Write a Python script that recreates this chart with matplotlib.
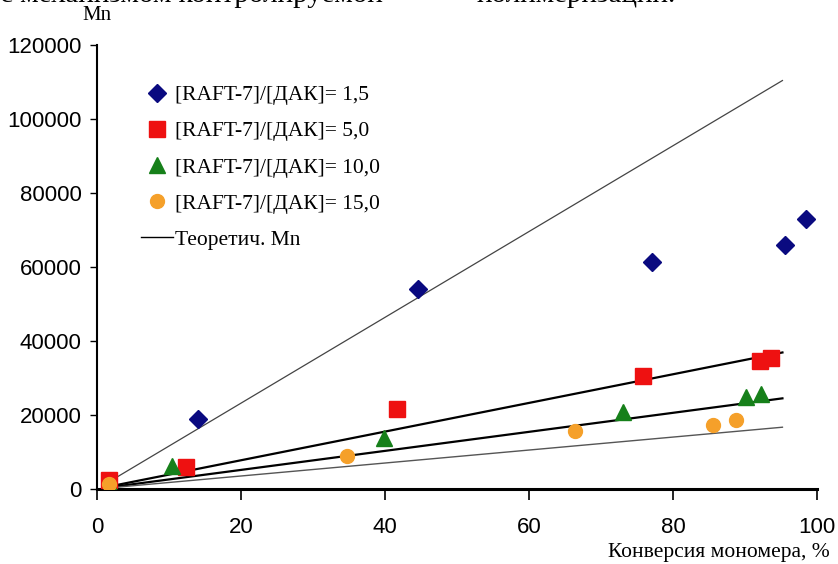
#!/bin/python3

"""
Mn vs monomer conversion for RAFT-7 polymerisation at several [RAFT-7]/[ДАК] ratios.
"""

import matplotlib
matplotlib.use("Agg")
import matplotlib.pyplot as plt

SANS = "Liberation Sans"
SERIF = "Liberation Serif"

# experimental points: conversion (%) and Mn
conv_15 = [14.0, 44.6, 77.1, 95.6, 98.5]
mn_15 = [18900, 54000, 61300, 66000, 73000]

conv_50 = [1.6, 12.4, 41.6, 75.9, 92.1, 93.6]
mn_50 = [2300, 5900, 21500, 30500, 34600, 35400]

conv_100 = [2.0, 10.4, 39.9, 73.1, 90.2, 92.2]
mn_100 = [600, 6200, 13700, 20900, 24900, 25600]

conv_150 = [1.6, 34.7, 66.4, 85.5, 88.7]
mn_150 = [1300, 9000, 15700, 17300, 18650]

# theoretical Mn lines (start / end)
th_conv = [1.5, 95.2]
th_mn_15 = [1750, 110400]
th_mn_50 = [600, 36900]
th_mn_100 = [400, 24500]
th_mn_150 = [270, 16700]

LABELS = [
    "[RAFT-7]/[ДАК]= 1,5",
    "[RAFT-7]/[ДАК]= 5,0",
    "[RAFT-7]/[ДАК]= 10,0",
    "[RAFT-7]/[ДАК]= 15,0",
]
TH_LABEL = "Теоретич. Mn"

X_TICKS = [0, 20, 40, 60, 80, 100]
Y_TICKS = [0, 20000, 40000, 60000, 80000, 100000, 120000]


def main() -> None:
    fig = plt.figure(figsize=(8.38, 5.64), dpi=100)
    ax = fig.add_axes([97 / 838, 1 - 489 / 564, 720 / 838, 444 / 564])

    # theory lines
    th_line, = ax.plot(th_conv, th_mn_15, color="#444444", lw=0.9, zorder=1)
    ax.plot(th_conv, th_mn_50, color="black", lw=1.6, zorder=1)
    ax.plot(th_conv, th_mn_100, color="black", lw=1.6, zorder=1)
    ax.plot(th_conv, th_mn_150, color="#555555", lw=1.0, zorder=1)

    # experiment
    h1, = ax.plot(conv_15, mn_15, ls="none", marker="D", ms=9,
                  color="#0a0a80", zorder=3)
    h2, = ax.plot(conv_50, mn_50, ls="none", marker="s", ms=11,
                  color="#ee1111", zorder=3)
    h3, = ax.plot(conv_100, mn_100, ls="none", marker="^", ms=11,
                  color="#16801a", zorder=3)
    h4, = ax.plot(conv_150, mn_150, ls="none", marker="o", ms=10,
                  color="#f5a02a", zorder=4)

    ax.set_xlim(0, 100)
    ax.set_ylim(0, 120000)
    ax.set_xticks(X_TICKS)
    ax.set_yticks(Y_TICKS)
    ax.ticklabel_format(axis="y", style="plain")
    for lab in ax.get_xticklabels() + ax.get_yticklabels():
        lab.set_fontfamily(SANS)
        lab.set_fontsize(16)
    ax.tick_params(axis="x", direction="out", length=8, width=1.2, pad=12)
    ax.tick_params(axis="y", direction="out", length=5, width=1.0, pad=6)

    ax.spines["top"].set_visible(False)
    ax.spines["right"].set_visible(False)
    ax.spines["left"].set_linewidth(1.5)
    ax.spines["bottom"].set_linewidth(2.2)

    fig.text(97 / 838, 1 - 16 / 564, "Mn", family=SERIF, fontsize=15,
             ha="center", va="center")
    fig.text(830 / 838, 1 - 553 / 564, "Конверсия мономера, %", family=SERIF,
             fontsize=15.5, ha="right", va="center")

    # clipped caption line from the source page
    fig.text(0.0, 1 - 2 / 564, "с механизмом контролируемой", family=SERIF,
             fontsize=21, ha="left", va="baseline")
    fig.text(477 / 838, 1 - 2 / 564, "полимеризации.", family=SERIF,
             fontsize=21, ha="left", va="baseline")

    leg = fig.legend(
        [h1, h2, h3, h4, th_line],
        LABELS + [TH_LABEL],
        loc="upper left",
        bbox_to_anchor=(141 / 838, 1 - 85 / 564),
        frameon=False,
        prop={"family": SERIF, "size": 15.5},
        handlelength=1.5,
        handletextpad=0.1,
        labelspacing=0.75,
        borderpad=0,
        borderaxespad=0,
    )
    for line in leg.get_lines()[4:]:
        line.set_color("black")
        line.set_linewidth(1.0)

    fig.savefig("out.png", dpi=100)


if __name__ == "__main__":
    main()
